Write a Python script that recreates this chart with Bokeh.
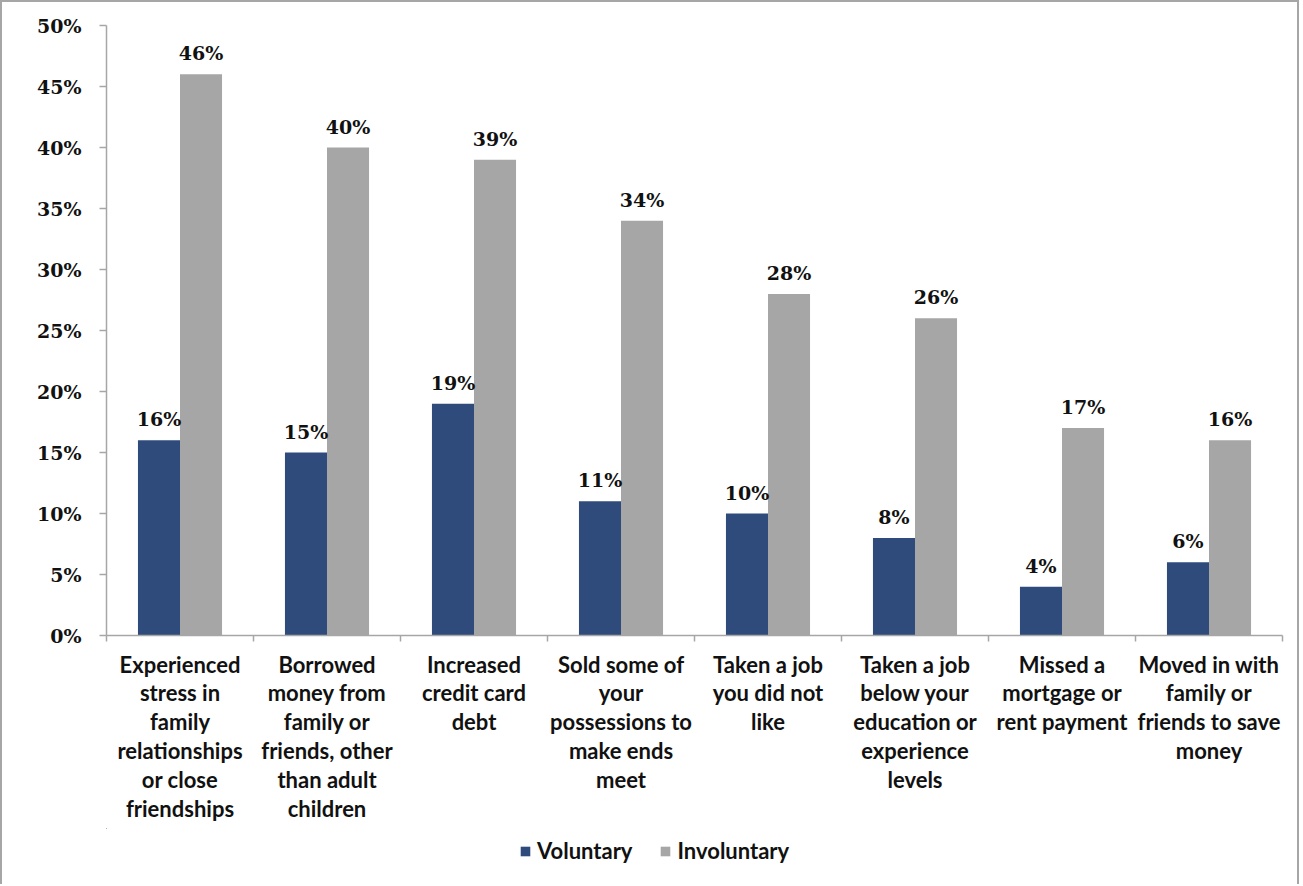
from bokeh.plotting import figure
from bokeh.layouts import column
from bokeh.models import (Range1d, FixedTicker, LinearAxis, PrintfTickFormatter,
                          ColumnDataSource, Legend, LegendItem)
from bokeh.core.properties import value
from bokeh.embed import file_html
from bokeh.resources import INLINE

categories = [
    "Experienced\nstress in\nfamily\nrelationships\nor close\nfriendships",
    "Borrowed\nmoney from\nfamily or\nfriends, other\nthan adult\nchildren",
    "Increased\ncredit card\ndebt",
    "Sold some of\nyour\npossessions to\nmake ends\nmeet",
    "Taken a job\nyou did not\nlike",
    "Taken a job\nbelow your\neducation or\nexperience\nlevels",
    "Missed a\nmortgage or\nrent payment",
    "Moved in with\nfamily or\nfriends to save\nmoney",
]
series = ["Voluntary", "Involuntary"]
voluntary = [16, 15, 19, 11, 10, 8, 4, 6]
involuntary = [46, 40, 39, 34, 28, 26, 17, 16]
y_ticks = [0, 5, 10, 15, 20, 25, 30, 35, 40, 45, 50]

VOL_COLOR = "#2f4b7c"
INV_COLOR = "#a6a6a6"
AXIS_COLOR = "#a6a6a6"
BORDER = "2px solid #a6a6a6"
SERIF = "DejaVu Serif"
SANS = "Lato"

n = len(categories)
bw = 0.286
centers = [i + 0.5 for i in range(n)]

src = ColumnDataSource(dict(
    xv=[c - bw / 2 for c in centers],
    xi=[c + bw / 2 for c in centers],
    vol=voluntary,
    inv=involuntary,
    vol_lbl=[f"{v}%" for v in voluntary],
    inv_lbl=[f"{v}%" for v in involuntary],
))

p = figure(width=1299, height=828, output_backend="svg", toolbar_location=None,
           x_range=Range1d(0, n), y_range=Range1d(0, 50),
           min_border_left=104, min_border_top=23, min_border_right=19,
           min_border_bottom=195, x_axis_type=None, y_axis_type=None)
p.styles = {"border-left": BORDER, "border-top": BORDER, "border-right": BORDER}
p.outline_line_color = None
p.xgrid.visible = False
p.ygrid.visible = False

p.vbar(x="xv", top="vol", width=bw, source=src, fill_color=VOL_COLOR, line_color=None)
p.vbar(x="xi", top="inv", width=bw, source=src, fill_color=INV_COLOR, line_color=None)

for xcol, ycol, lcol in (("xv", "vol", "vol_lbl"), ("xi", "inv", "inv_lbl")):
    p.text(x=xcol, y=ycol, text=lcol, source=src, text_align="center",
           text_baseline="bottom", y_offset=-10, text_font=value(SERIF),
           text_font_style="bold", text_font_size="19px", text_color="#111111")

# y axis
yaxis = LinearAxis(ticker=FixedTicker(ticks=y_ticks),
                   formatter=PrintfTickFormatter(format="%d%%"))
yaxis.axis_line_color = AXIS_COLOR
yaxis.axis_line_width = 1.5
yaxis.major_tick_line_color = AXIS_COLOR
yaxis.major_tick_line_width = 1.5
yaxis.major_tick_in = 0
yaxis.major_tick_out = 7
yaxis.minor_tick_line_color = None
yaxis.major_label_standoff = 18
yaxis.major_label_text_font = SERIF
yaxis.major_label_text_font_style = "bold"
yaxis.major_label_text_font_size = "19px"
yaxis.major_label_text_color = "#111111"
p.add_layout(yaxis, "left")

# x axis: labels at centres, boundary ticks as minor ticks
xaxis = LinearAxis(ticker=FixedTicker(ticks=centers, minor_ticks=list(range(n + 1))),
                   major_label_overrides={c: lab for c, lab in zip(centers, categories)})
xaxis.axis_line_color = AXIS_COLOR
xaxis.axis_line_width = 1.5
xaxis.major_tick_line_color = None
xaxis.major_tick_in = 0
xaxis.major_tick_out = 0
xaxis.minor_tick_line_color = AXIS_COLOR
xaxis.minor_tick_line_width = 1.5
xaxis.minor_tick_in = 0
xaxis.minor_tick_out = 6
xaxis.major_label_standoff = 9
xaxis.major_label_text_font = SANS
xaxis.major_label_text_font_style = "bold"
xaxis.major_label_text_font_size = "22px"
xaxis.major_label_text_line_height = 1.07
xaxis.major_label_text_color = "#111111"
xaxis.major_label_text_align = "center"
p.add_layout(xaxis, "below")

# legend strip (the bars lie outside its visible ranges; only the swatches show)
lg = figure(width=1299, height=56, output_backend="svg", toolbar_location=None,
            x_range=Range1d(1000, 1001), y_range=Range1d(-2000, -1999),
            min_border=0, x_axis_type=None, y_axis_type=None)
lg.styles = {"border-left": BORDER, "border-right": BORDER}
lg.outline_line_color = None
lg.xgrid.visible = False
lg.ygrid.visible = False
r_vol = lg.vbar(x="xv", top="vol", width=bw, source=src, fill_color=VOL_COLOR, line_color=None)
r_inv = lg.vbar(x="xi", top="inv", width=bw, source=src, fill_color=INV_COLOR, line_color=None)

legend = Legend(items=[LegendItem(label=series[0], renderers=[r_vol]),
                       LegendItem(label=series[1], renderers=[r_inv])],
                location=(413, 20), orientation="horizontal",
                border_line_color=None, background_fill_alpha=0,
                padding=0, margin=0, spacing=27, label_standoff=6,
                glyph_width=12, glyph_height=12, label_height=20,
                label_text_font=SANS, label_text_font_style="bold",
                label_text_font_size="22px", label_text_color="#111111")
lg.add_layout(legend, "center")

layout = column(p, lg, spacing=0)
open("out.html", "w").write(file_html(layout, INLINE))
